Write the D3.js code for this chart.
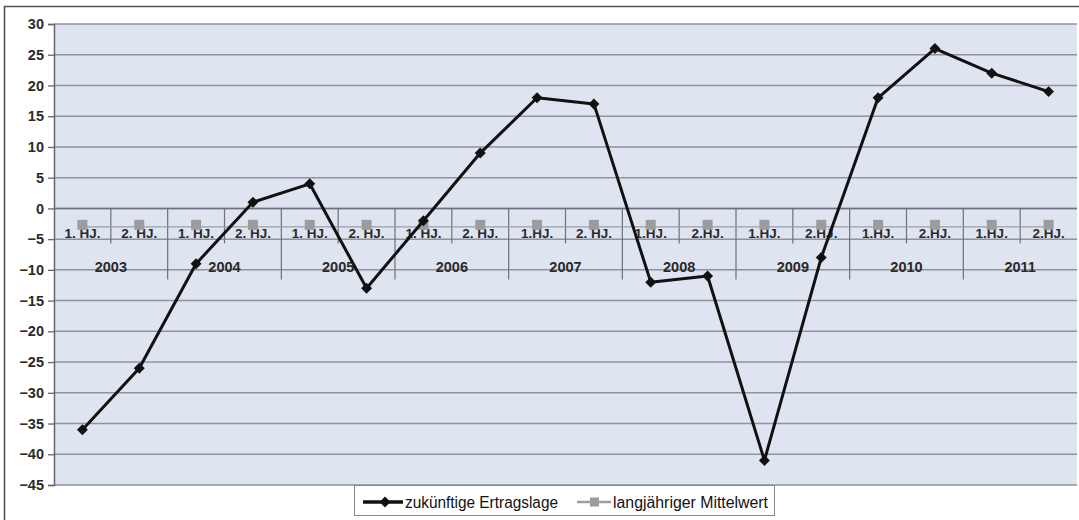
<!DOCTYPE html>
<html><head><meta charset="utf-8">
<script src="https://cdn.jsdelivr.net/npm/d3@7"></script>
<style>body{margin:0;background:#fff;}svg{display:block;}</style>
</head><body>
<svg id="c" width="1079" height="520"></svg>
<script>
const years = ["2003","2004","2005","2006","2007","2008","2009","2010","2011"];
const halfLabels = ["1. HJ.","2. HJ.","1. HJ.","2. HJ.","1. HJ.","2. HJ.","1. HJ.","2. HJ.","1.HJ.","2. HJ.","1.HJ.","2.HJ.","1.HJ.","2.HJ.","1.HJ.","2.HJ.","1.HJ.","2.HJ."];
const ertragslage = [-36,-26,-9,1,4,-13,-2,9,18,17,-12,-11,-41,-8,18,26,22,19];
const mittelwert = [-3,-3,-3,-3,-3,-3,-3,-3,-3,-3,-3,-3,-3,-3,-3,-3,-3,-3];
const yTicks = [30,25,20,15,10,5,0,-5,-10,-15,-20,-25,-30,-35,-40,-45];
const seriesNames = ["zukünftige Ertragslage","langjähriger Mittelwert"];

const svg = d3.select("#c");
const L = 54, R = 1077, T = 24, B = 485;
const FONT = "Liberation Sans, Arial, sans-serif";
const idx = d3.range(halfLabels.length);
const x = d3.scaleBand().domain(idx).range([L, R]);
const y = d3.scaleLinear().domain([-45, 30]).range([B, T]);

// outer border
svg.append("path").attr("d", `M4.5,530 V6.5 H1090`).attr("fill","none").attr("stroke","#555").attr("stroke-width",1.6);

// plot area
svg.append("rect").attr("x", L).attr("y", T).attr("width", R - L).attr("height", B - T).attr("fill", "#dfe4f1");

// gridlines
svg.append("g").selectAll("line").data(yTicks).join("line")
  .attr("x1", L).attr("x2", R).attr("y1", d => y(d)).attr("y2", d => y(d))
  .attr("stroke", "#8e939e").attr("stroke-width", 1.5);

// y axis
const yAxis = d3.axisLeft(y).tickValues(yTicks).tickSize(6).tickPadding(4).tickFormat(d3.format("d"));
const ga = svg.append("g").attr("transform", `translate(${L},0)`).call(yAxis);
ga.select(".domain").attr("stroke", "#666").attr("stroke-width", 1.5);
ga.selectAll(".tick line").attr("stroke", "#666").attr("stroke-width", 1.3);
ga.selectAll(".tick text").attr("font-family", FONT).attr("font-weight", "bold").attr("font-size", 14.5).attr("fill", "#2a2a2a");

// category axis at 0
const y0 = y(0);
const bw = x.bandwidth();
const cat = svg.append("g");
cat.append("line").attr("x1", L).attr("x2", R).attr("y1", y0).attr("y2", y0).attr("stroke", "#6c717b").attr("stroke-width", 1.5);
idx.forEach(i => {
  const xb = x(i) + bw;
  if (i === idx.length - 1) return;
  const isYear = (i % 2) === 1;
  cat.append("line").attr("x1", xb).attr("x2", xb).attr("y1", y0).attr("y2", y0 + (isYear ? 71 : 35))
    .attr("stroke", "#6c717b").attr("stroke-width", 1.2);
});
cat.selectAll("text.h").data(halfLabels).join("text").attr("class", "h")
  .attr("x", (d, i) => x(i) + bw / 2).attr("y", y0 + 30)
  .attr("text-anchor", "middle").attr("font-family", FONT)
  .attr("font-weight", "bold").attr("font-size", 13.5).attr("fill", "#2a2a2a").text(d => d);
cat.selectAll("text.yr").data(years).join("text").attr("class", "yr")
  .attr("x", (d, i) => x(i * 2) + bw).attr("y", y0 + 64)
  .attr("text-anchor", "middle").attr("font-family", FONT)
  .attr("font-weight", "bold").attr("font-size", 14.5).attr("fill", "#2a2a2a").text(d => d);

// mean series
const cx = i => x(i) + bw / 2;
const line = d3.line().x((d, i) => cx(i)).y(d => y(d));
svg.append("path").datum(mittelwert).attr("d", line).attr("fill", "none").attr("stroke", "#9a9ea6").attr("stroke-width", 1.2);
svg.append("g").selectAll("rect").data(mittelwert).join("rect")
  .attr("x", (d, i) => cx(i) - 5).attr("y", d => y(d) - 7).attr("width", 10).attr("height", 10).attr("fill", "#9c9c9c");

// main series
svg.append("path").datum(ertragslage).attr("d", line).attr("fill", "none").attr("stroke", "#111").attr("stroke-width", 3).attr("stroke-linejoin", "round");
const diamond = d3.symbol().type(d3.symbolSquare).size(60);
svg.append("g").selectAll("path").data(ertragslage).join("path")
  .attr("transform", (d, i) => `translate(${cx(i)},${y(d)}) rotate(45)`).attr("d", diamond).attr("fill", "#111");

// legend
const lg = svg.append("g");
lg.append("rect").attr("x", 354.5).attr("y", 485.5).attr("width", 420).attr("height", 30).attr("fill", "#fff").attr("stroke", "#888");
const ly = 502;
lg.append("line").attr("x1", 363).attr("x2", 403).attr("y1", ly).attr("y2", ly).attr("stroke", "#111").attr("stroke-width", 3.5);
lg.append("path").attr("transform", `translate(385,${ly}) rotate(45)`).attr("d", diamond).attr("fill", "#111");
lg.append("text").attr("x", 405).attr("y", ly + 5.5).attr("font-family", "Liberation Sans Narrow, Liberation Sans, Arial, sans-serif")
  .attr("font-size", 16).attr("fill", "#111").attr("textLength", 153).attr("lengthAdjust", "spacingAndGlyphs").text(seriesNames[0]);
lg.append("line").attr("x1", 577).attr("x2", 611).attr("y1", ly).attr("y2", ly).attr("stroke", "#9a9ea6").attr("stroke-width", 2.5);
lg.append("rect").attr("x", 590).attr("y", ly - 4.5).attr("width", 9).attr("height", 9).attr("fill", "#9c9c9c");
lg.append("text").attr("x", 613).attr("y", ly + 5.5).attr("font-family", "Liberation Sans Narrow, Liberation Sans, Arial, sans-serif")
  .attr("font-size", 16).attr("fill", "#111").attr("textLength", 155).attr("lengthAdjust", "spacingAndGlyphs").text(seriesNames[1]);
</script>
</body></html>
